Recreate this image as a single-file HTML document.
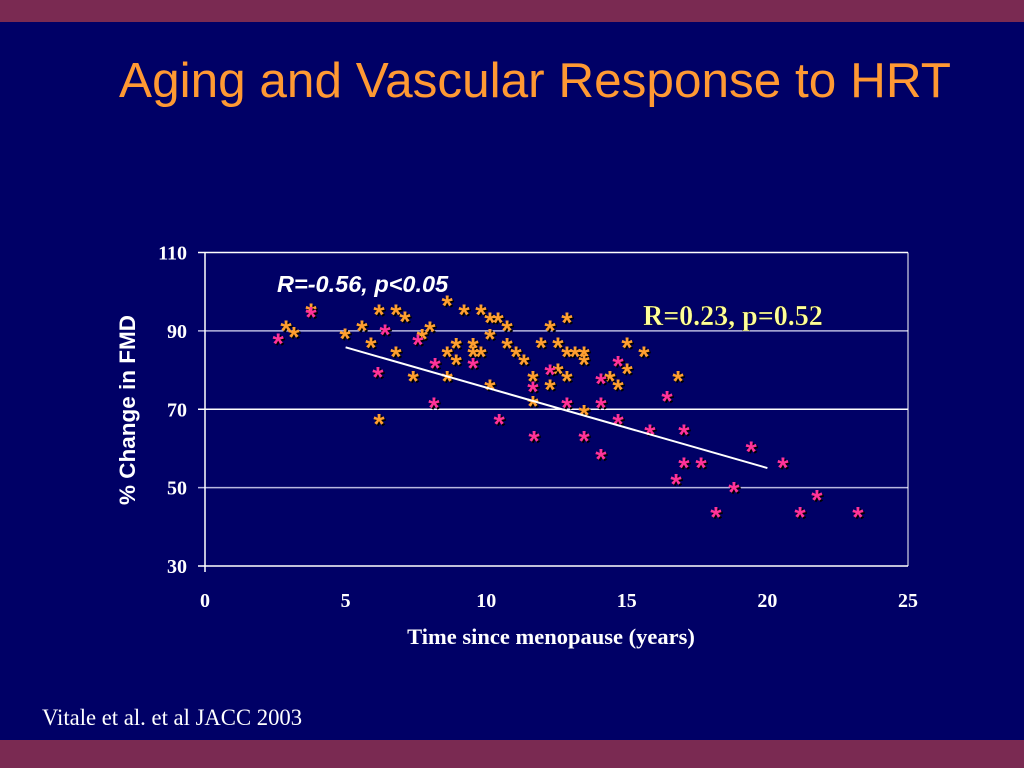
<!DOCTYPE html>
<html><head><meta charset="utf-8"><style>
html,body{margin:0;padding:0;}
body{width:1024px;height:768px;background:#000066;position:relative;overflow:hidden;font-family:"Liberation Sans",sans-serif;}
.bar{position:absolute;left:0;width:1024px;background:#7a2a52;}
#title{position:absolute;left:0;top:52px;width:1070px;text-align:center;color:#ff9933;font-size:49.5px;}
#cite{position:absolute;left:42px;top:705px;color:#fff;font-family:"Liberation Serif",serif;font-size:22.7px;}
</style></head><body>
<div class="bar" style="top:0;height:22px;"></div>
<div class="bar" style="top:740px;height:28px;"></div>
<div id="title">Aging and Vascular Response to HRT</div>
<div id="cite">Vitale et al. et al JACC 2003</div>
<svg id="chart" width="1024" height="768" style="position:absolute;left:0;top:0">
<g id="grid"></g><g id="axes"></g><g id="pts"></g><g id="lbl"></g>
</svg>
<script>
const xTicks=[0,5,10,15,20,25];
const yTicks=[30,50,70,90,110];
const orangeX=[2.88,3.16,3.77,4.98,5.58,6.19,5.90,6.79,7.11,6.79,8.00,7.72,8.61,9.21,9.81,10.13,10.42,10.74,10.13,8.93,9.53,8.61,9.53,9.81,10.74,11.06,11.34,11.95,12.27,12.87,12.55,12.87,13.16,13.48,13.48,8.93,7.40,8.61,10.13,11.66,12.27,12.55,12.87,11.66,13.48,15.01,15.61,15.01,14.40,14.69,16.82,6.19];
const orangeY=[91.1,89.4,95.5,89.1,91.1,95.2,86.8,95.2,93.4,84.5,90.9,88.9,97.5,95.2,95.2,93.2,93.2,91.1,88.9,86.6,86.6,84.5,84.5,84.5,86.6,84.5,82.5,86.8,91.1,93.2,86.8,84.5,84.5,84.5,82.5,82.5,78.2,78.2,76.1,78.2,76.1,80.2,78.2,71.8,69.5,86.8,84.5,80.2,78.2,76.1,78.2,67.2];
const pinkX=[2.60,3.77,6.40,6.15,7.57,8.18,8.14,9.53,10.46,11.70,11.66,12.27,12.87,13.48,14.08,14.08,14.08,14.69,14.69,15.82,16.43,17.03,17.03,17.64,16.75,19.42,18.81,18.17,20.55,21.16,21.76,23.22];
const pinkY=[87.8,94.5,90.1,79.2,87.6,81.5,71.5,81.5,67.2,62.9,75.6,79.9,71.5,62.9,58.3,71.5,77.6,67.2,82.0,64.6,73.1,64.6,56.2,56.2,51.9,60.3,49.9,43.5,56.2,43.5,47.8,43.5];
const fitX=[5,20];
const fitY=[85.8,55.0];

const X0=205,X1=908,Y0=566,Y1=252.5;
const sx=v=>X0+(v-0)/(25-0)*(X1-X0);
const sy=v=>Y0-(v-30)/(110-30)*(Y0-Y1);
const NS="http://www.w3.org/2000/svg";
function mk(tag,attrs,parent,text){const e=document.createElementNS(NS,tag);for(const k in attrs)e.setAttribute(k,attrs[k]);if(text!==undefined)e.textContent=text;document.getElementById(parent).appendChild(e);return e;}

yTicks.forEach(t=>{
  const g=mk('line',{x1:198,x2:X1,y1:sy(t),y2:sy(t),stroke:(t===110||t===70||t===30)?'#ffffff':'#b8b8e0','stroke-width':1.5},'grid');
  
  
  const l=mk('text',{x:187,y:sy(t)+7,'text-anchor':'end',fill:'#fff','font-family':'Liberation Serif,serif','font-weight':'bold','font-size':20},'lbl',String(t));
  
  
});
const ax=mk('line',{x1:X0,x2:X0,y1:Y1,y2:Y0+6,stroke:'#fff','stroke-width':1.5},'axes');


const ax2=mk('line',{x1:X1,x2:X1,y1:Y1,y2:Y0,stroke:'#fff','stroke-width':1},'axes');


xTicks.forEach(t=>{
  const l=mk('text',{x:sx(t),y:607,'text-anchor':'middle',fill:'#fff','font-family':'Liberation Serif,serif','font-weight':'bold','font-size':20},'lbl',String(t));
  
  
});
function star(x,y,col,name){
  const s=mk('text',{x:sx(x)+1.5,y:sy(y)+15.5,'text-anchor':'middle',fill:'#000','font-weight':'bold','font-size':29},'pts','*');
  
  
  const e=mk('text',{x:sx(x),y:sy(y)+14,'text-anchor':'middle',fill:col,'font-weight':'bold','font-size':29},'pts','*');
  
  
}
orangeX.forEach((x,i)=>star(x,orangeY[i],'#ff9f30','orange-point'));
pinkX.forEach((x,i)=>star(x,pinkY[i],'#ff3399','pink-point'));
const fl=mk('line',{x1:sx(fitX[0]),y1:sy(fitY[0]),x2:sx(fitX[1]),y2:sy(fitY[1]),stroke:'#fff','stroke-width':2},'pts');



const a=mk('text',{x:277,y:292,fill:'#fff','font-style':'italic','font-weight':'bold','font-size':23.5},'lbl','R=-0.56, p<0.05');


const b=mk('text',{x:643,y:325,fill:'#ffff99','font-family':'Liberation Serif,serif','font-weight':'bold','font-size':28,stroke:'#000','stroke-width':0.3},'lbl','R=0.23, p=0.52');


const xt=mk('text',{x:551,y:644,'text-anchor':'middle',fill:'#fff','font-family':'Liberation Serif,serif','font-weight':'bold','font-size':22.5},'lbl','Time since menopause (years)');


const yt=mk('text',{x:0,y:0,'text-anchor':'middle',fill:'#fff','font-weight':'bold','font-size':22.5,transform:'translate(135,410) rotate(-90)'},'lbl','% Change in FMD');


</script>
</body></html>
